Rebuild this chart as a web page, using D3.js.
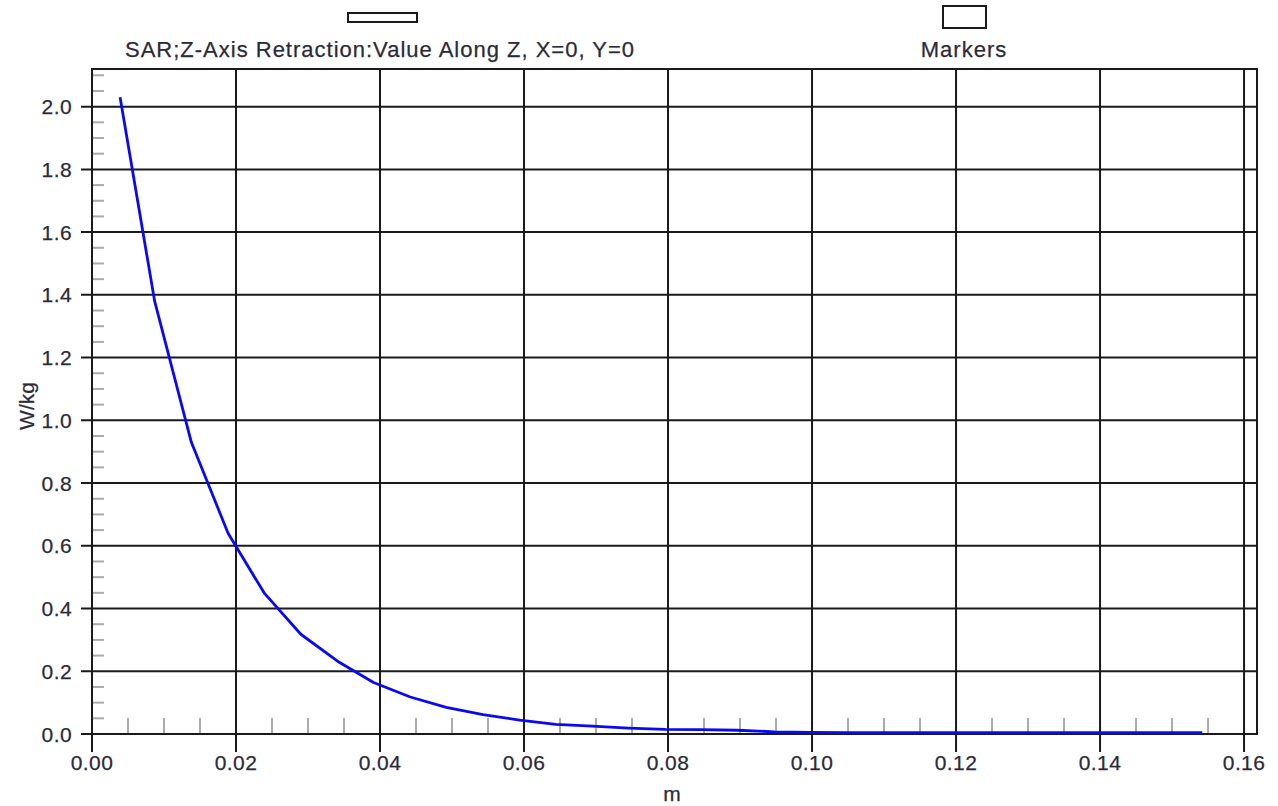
<!DOCTYPE html>
<html>
<head>
<meta charset="utf-8">
<script src="https://cdnjs.cloudflare.com/ajax/libs/d3/7.8.5/d3.min.js"></script>
<style>
  body { margin: 0; background: #fff; }
  text { font-family: "Liberation Sans", Arial, sans-serif; fill: #2b2b38; stroke: #2b2b38; stroke-width: 0.25px; }
</style>
</head>
<body>
<div id="chart"></div>
<script>
const svgWidth = 1278;
const svgHeight = 806;

// data
const seriesName = "SAR;Z-Axis Retraction:Value Along Z, X=0, Y=0";
const markerName = "Markers";
const xTitle = "m";
const yTitle = "W/kg";

const distance = [0.0039, 0.0087, 0.0138, 0.0189, 0.0239, 0.0290, 0.0341, 0.0391, 0.0442,
  0.0492, 0.0543, 0.0594, 0.0644, 0.0695, 0.0745, 0.0796, 0.0846, 0.0897, 0.0948, 0.0998,
  0.1049, 0.1099, 0.1150, 0.1200, 0.1251, 0.1301, 0.1352, 0.1402, 0.1453, 0.1503, 0.1542];
const sar = [2.03, 1.38, 0.93, 0.64, 0.45, 0.318, 0.232, 0.164, 0.118, 0.085, 0.062, 0.044,
  0.031, 0.025, 0.019, 0.015, 0.014, 0.012, 0.007, 0.005, 0.004, 0.004, 0.004, 0.004,
  0.004, 0.004, 0.004, 0.004, 0.004, 0.004, 0.004];

const xTicks = [0, 0.02, 0.04, 0.06, 0.08, 0.10, 0.12, 0.14, 0.16];
const yTicks = [0, 0.2, 0.4, 0.6, 0.8, 1.0, 1.2, 1.4, 1.6, 1.8, 2.0];

const svg = d3.select("#chart")
  .append("svg")
  .attr("width", svgWidth)
  .attr("height", svgHeight);

// plot frame
const plot = {left: 92, right: 1257, top: 69, bottom: 734};

const x = d3.scaleLinear()
  .domain([0, 0.1618])
  .range([plot.left, plot.right]);

const y = d3.scaleLinear()
  .domain([0, 2.12])
  .range([plot.bottom, plot.top]);

const gridColor = "#1a1a1a";
const minorColor = "#ababab";

// minor ticks (gray, inside the frame)
const xMinor = d3.range(0.005, 0.156, 0.005).filter(v => Math.abs(v / 0.02 - Math.round(v / 0.02)) > 1e-6);
const yMinor = d3.range(0.05, 2.11, 0.05).filter(v => Math.abs(v / 0.2 - Math.round(v / 0.2)) > 1e-6);

svg.append("g").selectAll("line")
  .data(xMinor)
  .enter().append("line")
  .attr("x1", d => x(d)).attr("x2", d => x(d))
  .attr("y1", plot.bottom).attr("y2", plot.bottom - 16)
  .attr("stroke", minorColor).attr("stroke-width", 2);

svg.append("g").selectAll("line")
  .data(yMinor)
  .enter().append("line")
  .attr("x1", plot.left).attr("x2", plot.left + 12)
  .attr("y1", d => y(d)).attr("y2", d => y(d))
  .attr("stroke", minorColor).attr("stroke-width", 2);

// grid lines
svg.append("g").selectAll("line")
  .data(xTicks)
  .enter().append("line")
  .attr("x1", d => x(d)).attr("x2", d => x(d))
  .attr("y1", plot.top).attr("y2", plot.bottom + 18)
  .attr("stroke", gridColor).attr("stroke-width", 2);

svg.append("g").selectAll("line")
  .data(yTicks)
  .enter().append("line")
  .attr("x1", plot.left - 11).attr("x2", plot.right)
  .attr("y1", d => y(d)).attr("y2", d => y(d))
  .attr("stroke", gridColor).attr("stroke-width", 2);

svg.append("rect")
  .attr("x", plot.left).attr("y", plot.top)
  .attr("width", plot.right - plot.left)
  .attr("height", plot.bottom - plot.top)
  .attr("fill", "none")
  .attr("stroke", gridColor).attr("stroke-width", 2);

// tick labels
svg.append("g").selectAll("text")
  .data(xTicks)
  .enter().append("text")
  .attr("x", d => x(d))
  .attr("y", 770)
  .attr("text-anchor", "middle")
  .style("font-size", "21px")
  .style("letter-spacing", "0.4px")
  .text(d => d3.format(".2f")(d));

svg.append("g").selectAll("text")
  .data(yTicks)
  .enter().append("text")
  .attr("x", 72)
  .attr("y", d => y(d) + 7.5)
  .attr("text-anchor", "end")
  .style("font-size", "21px")
  .style("letter-spacing", "0.4px")
  .text(d => d3.format(".1f")(d));

// axis titles
svg.append("text")
  .attr("x", 672).attr("y", 801)
  .attr("text-anchor", "middle")
  .style("font-size", "21px")
  .text(xTitle);

svg.append("text")
  .attr("transform", "translate(34, 406) rotate(-90)")
  .attr("text-anchor", "middle")
  .style("font-size", "21px")
  .text(yTitle);

// the curve
const line = d3.line()
  .x(d => x(d[0]))
  .y(d => y(d[1]));

svg.append("path")
  .datum(d3.zip(distance, sar))
  .attr("d", line)
  .attr("fill", "none")
  .attr("stroke", "#0a0af0")
  .attr("stroke-width", 2.8)
  .attr("stroke-linejoin", "round");

// legend
svg.append("rect")
  .attr("x", 348).attr("y", 13).attr("width", 69).attr("height", 9)
  .attr("fill", "#fff").attr("stroke", gridColor).attr("stroke-width", 2);
svg.append("text")
  .attr("x", 380).attr("y", 57)
  .attr("text-anchor", "middle")
  .style("font-size", "22px")
  .style("letter-spacing", "1px")
  .text(seriesName);

svg.append("rect")
  .attr("x", 943).attr("y", 6).attr("width", 43).attr("height", 22)
  .attr("fill", "#fff").attr("stroke", gridColor).attr("stroke-width", 2);
svg.append("text")
  .attr("x", 964).attr("y", 57)
  .attr("text-anchor", "middle")
  .style("font-size", "22px")
  .style("letter-spacing", "1px")
  .text(markerName);
</script>
</body>
</html>
